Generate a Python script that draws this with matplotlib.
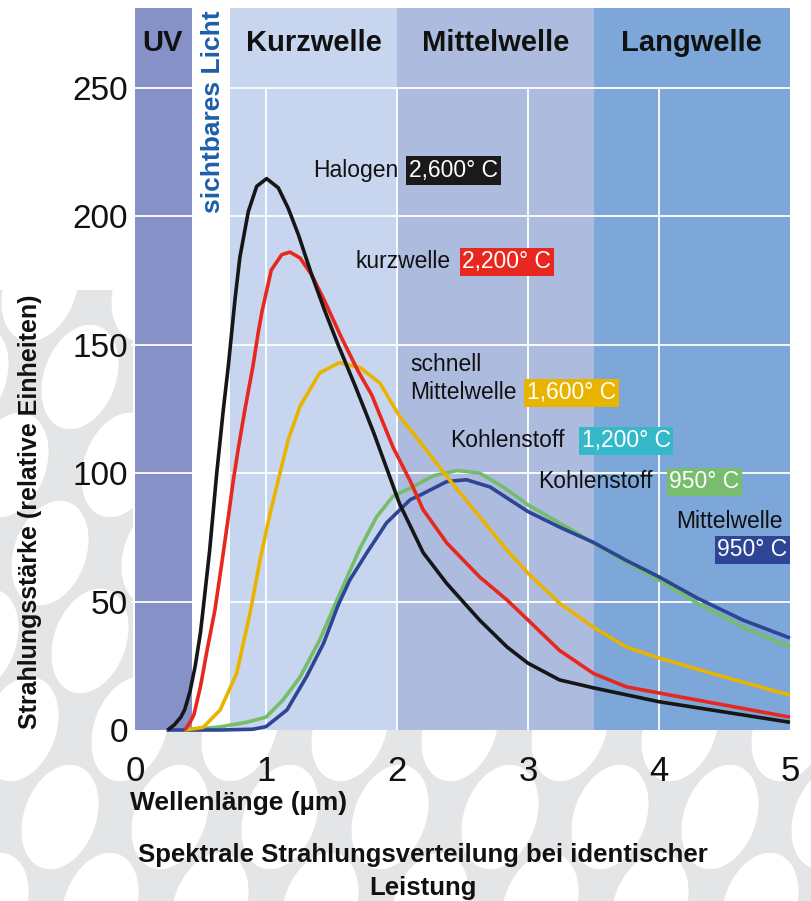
import matplotlib
matplotlib.use("Agg")
import matplotlib.pyplot as plt
from matplotlib.patches import Ellipse, Rectangle
from matplotlib import font_manager

# ---------------- data ----------------
halogen_x = [0.25, 0.30, 0.35, 0.38, 0.42, 0.46, 0.50, 0.52, 0.57, 0.624, 0.674, 0.712, 0.763,
             0.80, 0.865, 0.929, 1.005, 1.094, 1.17, 1.247, 1.35, 1.45, 1.55, 1.68, 1.82, 2.02,
             2.20, 2.38, 2.63, 2.84, 3.00, 3.24, 3.50, 4.00, 4.50, 5.00]
halogen_y = [0, 2, 5, 8, 15, 25, 38, 47, 70, 100, 124.6, 141.5, 167.4,
             183.8, 201.8, 211.6, 214.6, 211, 203, 192.8, 177, 163, 150, 134, 116, 88,
             69, 57, 42.8, 32.3, 26, 19.5, 16.4, 11, 7, 3]

kurz_x = [0.38, 0.42, 0.45, 0.50, 0.55, 0.61, 0.66, 0.71, 0.75, 0.79, 0.84, 0.90, 0.94, 0.97,
          1.04, 1.12, 1.183, 1.26, 1.35, 1.45, 1.578, 1.705, 1.807, 1.97, 2.10, 2.20, 2.38,
          2.63, 2.84, 3.00, 3.24, 3.50, 3.75, 4.00, 4.50, 5.00]
kurz_y = [0, 3, 6, 17, 31, 46.7, 64, 82, 97, 110, 125, 141.5, 154.5, 163,
          179, 185, 186, 183.7, 177, 166.7, 152.5, 139.5, 130.4, 110, 97, 85.7, 72.8,
          59.6, 50.6, 42.8, 31, 22, 16.8, 14.4, 9.7, 5]

schnell_x = [0.38, 0.52, 0.65, 0.776, 0.88, 0.954, 1.03, 1.094, 1.17, 1.26, 1.41, 1.56, 1.72,
             1.87, 2.02, 2.10, 2.40, 2.63, 2.84, 3.00, 3.24, 3.50, 3.75, 4.00, 4.50, 5.00]
schnell_y = [0, 1, 7.8, 22, 46, 66, 84, 97.4, 113, 126, 139, 143, 141,
             135, 122, 117, 97.4, 83, 70, 61, 49.4, 40, 32.3, 28, 20.6, 13.6]

kohle_x = [0.39, 0.65, 0.85, 1.00, 1.13, 1.26, 1.41, 1.52, 1.62, 1.72, 1.845, 1.97, 2.12, 2.28,
           2.46, 2.63, 2.81, 3.00, 3.24, 3.50, 3.75, 4.00, 4.29, 4.64, 5.00]
kohle_y = [0, 1.2, 3, 5, 11.7, 20.6, 35, 48, 59.6, 71, 83, 91, 94.6, 99,
           101, 100, 94.6, 87.6, 80.6, 72.8, 65.4, 58.4, 49.4, 40, 32.3]

mittel_x = [0.24, 0.65, 0.90, 1.00, 1.16, 1.31, 1.44, 1.55, 1.64, 1.77, 1.92, 2.10, 2.18, 2.38,
            2.53, 2.71, 3.00, 3.24, 3.50, 3.75, 4.00, 4.29, 4.64, 5.00]
mittel_y = [0, 0, 0.3, 1.3, 7.8, 20.8, 33.8, 48.5, 58.4, 69, 80.6, 89.6, 91.5, 96.7,
            97.4, 94.6, 85, 79, 73, 66, 59.6, 51.4, 42.8, 35.8]

band_edges = [0.0, 0.435, 0.725, 2.0, 3.5, 5.0]
band_colors = ["#8591c7", "#ffffff", "#c7d5ee", "#adbbdf", "#7ca7d8"]
band_names = ["UV", None, "Kurzwelle", "Mittelwelle", "Langwelle"]

x_ticks = [0, 1, 2, 3, 4, 5]
y_ticks = [0, 50, 100, 150, 200, 250]

# ---------------- fonts ----------------
avail = {f.name for f in font_manager.fontManager.ttflist}
def pick(*names):
    for n in names:
        if n in avail:
            return n
    return "DejaVu Sans"
SANS = pick("Liberation Sans", "Arial", "DejaVu Sans")
NARROW = pick("Liberation Sans Narrow", "Liberation Sans", "DejaVu Sans")
plt.rcParams["font.family"] = [SANS, "DejaVu Sans"]

W, H = 811, 901
fig = plt.figure(figsize=(W / 100, H / 100), dpi=100)
fig.patch.set_facecolor("white")

# ---------------- decorative background ----------------
def px(x, y):
    return x / 100, (H - y) / 100

grey = "#e4e5e7"
fig.add_artist(Rectangle(px(0, H), 1.33, (H - 290) / 100, transform=fig.dpi_scale_trans,
                         facecolor=grey, edgecolor="none", zorder=-20))
fig.add_artist(Rectangle(px(0, H), W / 100, (H - 730) / 100, transform=fig.dpi_scale_trans,
                         facecolor=grey, edgecolor="none", zorder=-20))
for j in range(-1, 10):
    for i in range(-1, 10):
        cx = -10 + i * 110 - j * 40 + (j // 3) * 110
        cy = 905 - j * 88
        if cx < -60 or cx > 880:
            continue
        fig.add_artist(Ellipse(px(cx, cy), 0.72, 1.08, angle=-20, transform=fig.dpi_scale_trans,
                               facecolor="white", edgecolor="none", zorder=-19))
fig.add_artist(Rectangle(px(0, 290), 1.33, 2.9, transform=fig.dpi_scale_trans,
                         facecolor="white", edgecolor="none", zorder=-18))
fig.add_artist(Rectangle(px(790, 730), 0.21, 7.3, transform=fig.dpi_scale_trans,
                         facecolor="white", edgecolor="none", zorder=-18))

# ---------------- axes ----------------
ax = fig.add_axes([135 / W, 1 - 730 / H, (790 - 135) / W, (730 - 8) / H])
ax.set_xlim(0, 5)
ax.set_ylim(0, 281)
ax.patch.set_alpha(0)
for s in ax.spines.values():
    s.set_visible(False)

for i in range(len(band_colors)):
    ax.axvspan(band_edges[i], band_edges[i + 1], ymin=0, ymax=1, color=band_colors[i], lw=0, zorder=0)

# grid
for yv in y_ticks[1:]:
    ax.axhline(yv, color="white", lw=1.3, zorder=1)
ax.vlines(x_ticks[1:-1], 0, 250, color="white", lw=1.3, zorder=1)

# headers
for i, name in enumerate(band_names):
    if name is None:
        continue
    cx = (band_edges[i] + band_edges[i + 1]) / 2
    if name == "UV":
        cx = 0.21
    ax.text(cx, 267.5, name, ha="center", va="center", fontsize=21, fontweight="bold",
            color="#111111", zorder=5)
ax.text(0.595, 240.6, "sichtbares Licht", rotation=90, ha="center", va="center",
        fontsize=19, fontweight="bold", color="#1c5fa8", zorder=5)

# curves
lw = 2.6
kw = dict(lw=lw, clip_on=False, solid_capstyle="butt", solid_joinstyle="round")
ax.plot(kohle_x, kohle_y, color="#74bd6a", zorder=3, **kw)
ax.plot(mittel_x, mittel_y, color="#2e4595", zorder=3.1, **kw)
ax.plot(schnell_x, schnell_y, color="#e8b400", zorder=3.2, **kw)
ax.plot(kurz_x, kurz_y, color="#e8271f", zorder=3.3, **kw)
ax.plot(halogen_x, halogen_y, color="#161616", zorder=3.4, **kw)

# annotations
FS = 16.5
def label(x, y, s, ha="left"):
    ax.text(x, y, s, ha=ha, va="center", fontsize=FS, color="#111111", zorder=6)
def badge(x, y, s, color, ha="left"):
    ax.text(x, y, s, ha=ha, va="center", fontsize=FS, color="white", zorder=6,
            bbox=dict(boxstyle="square,pad=0.12", facecolor=color, edgecolor="none"))

label(2.008, 217.7, "Halogen", ha="right")
badge(2.09, 217.7, "2,600° C", "#1a1a1a")
label(2.412, 182.2, "kurzwelle", ha="right")
badge(2.50, 182.2, "2,200° C", "#e8271f")
label(2.099, 142.1, "schnell")
label(2.099, 131.2, "Mittelwelle")
badge(2.99, 131.2, "1,600° C", "#e8b400")
label(2.405, 112.5, "Kohlenstoff")
badge(3.41, 112.5, "1,200° C", "#35b9c9")
label(3.076, 96.6, "Kohlenstoff")
badge(4.08, 96.6, "950° C", "#78bd6e")
label(4.947, 81.0, "Mittelwelle", ha="right")
badge(4.98, 70.1, "950° C", "#2d4594", ha="right")

# ticks
ax.set_xticks(x_ticks)
ax.set_yticks(y_ticks)
ax.set_xticklabels([str(v) for v in x_ticks], fontsize=25, family=[NARROW, "DejaVu Sans"])
ax.set_yticklabels([str(v) for v in y_ticks], fontsize=24)
ax.tick_params(axis="x", length=0, pad=18, colors="#111111")
ax.tick_params(axis="y", length=3, width=1.3, color="white", pad=2, labelcolor="#111111")

# axis labels & title
fig.text(30 / W, 1 - 512 / H, "Strahlungsstärke (relative Einheiten)", rotation=90,
         ha="center", va="center", fontsize=18, fontweight="bold", color="#111111")
fig.text(130 / W, 1 - 803 / H, "Wellenlänge (µm)", ha="left", va="center",
         fontsize=19, fontweight="bold", color="#111111")
fig.text(423 / W, 1 - 871.5 / H, "Spektrale Strahlungsverteilung bei identischer\nLeistung",
         ha="center", va="center", fontsize=18.5, fontweight="bold", color="#111111",
         linespacing=1.45, multialignment="center")

fig.savefig("out.png", dpi=100, facecolor=fig.get_facecolor())
